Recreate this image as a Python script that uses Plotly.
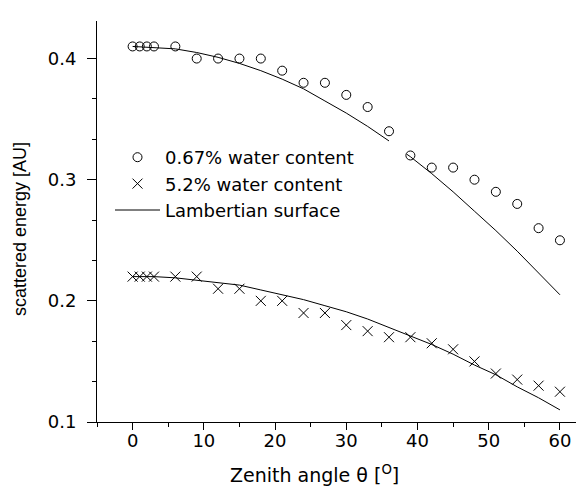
import plotly.graph_objects as go

# Measured data
angle = [0, 1, 2, 3, 6, 9, 12, 15, 18, 21, 24, 27, 30, 33, 36, 39, 42, 45, 48, 51, 54, 57, 60]
energy_067 = [0.41, 0.41, 0.41, 0.41, 0.41, 0.40, 0.40, 0.40, 0.40, 0.39, 0.38, 0.38, 0.37,
              0.36, 0.34, 0.32, 0.31, 0.31, 0.30, 0.29, 0.28, 0.26, 0.25]
energy_52 = [0.22, 0.22, 0.22, 0.22, 0.22, 0.22, 0.21, 0.21, 0.20, 0.20, 0.19, 0.19, 0.18,
             0.175, 0.17, 0.17, 0.165, 0.16, 0.15, 0.14, 0.135, 0.13, 0.125]

# Lambertian surface curves (upper curve has a gap)
lam_angle_hi = [0, 3, 6, 9, 12, 15, 18, 21, 24, 27, 30, 33, 36, None,
                38.5, 39, 42, 45, 48, 51, 54, 57, 60]
lam_hi = [0.410, 0.409, 0.408, 0.405, 0.401, 0.396, 0.390, 0.383, 0.375, 0.365, 0.355,
          0.344, 0.332, None, 0.321, 0.319, 0.305, 0.290, 0.274, 0.258, 0.241, 0.223, 0.205]
lam_angle_lo = [0, 3, 6, 9, 12, 15, 18, 21, 24, 27, 30, 33, 36, 39, 42, 45, 48, 51, 54, 57, 60]
lam_lo = [0.220, 0.220, 0.219, 0.217, 0.215, 0.213, 0.209, 0.205, 0.201, 0.196, 0.191,
          0.185, 0.178, 0.171, 0.164, 0.156, 0.147, 0.139, 0.129, 0.120, 0.110]

x_ticks = [0, 10, 20, 30, 40, 50, 60]
y_ticks = [0.1, 0.2, 0.3, 0.4]

x_title = "Zenith angle θ [<sup>O</sup>]"
y_title = "scattered energy [AU]"

FONT = "DejaVu Sans, sans-serif"
FONT_Y = "Liberation Sans, Arial, sans-serif"
W, H = 584, 488
L, R, T, B = 89, 0, 13, 74

fig = go.Figure()
fig.add_trace(go.Scatter(
    x=angle, y=energy_067, mode="markers", name="0.67% water content",
    marker=dict(symbol="circle-open", size=9, color="black", line=dict(width=1, color="black")),
))
fig.add_trace(go.Scatter(
    x=angle, y=energy_52, mode="markers", name="5.2% water content",
    marker=dict(symbol="x-thin-open", size=10, color="black", line=dict(width=1, color="black")),
))
fig.add_trace(go.Scatter(
    x=lam_angle_hi, y=lam_hi, mode="lines", name="Lambertian surface",
    legendgroup="c", connectgaps=False,
    line=dict(color="black", width=1),
))
fig.add_trace(go.Scatter(
    x=lam_angle_lo, y=lam_lo, mode="lines", name="Lambertian surface",
    legendgroup="c", showlegend=False,
    line=dict(color="black", width=1),
))

pw = W - L - R
ph = H - T - B
fig.add_annotation(
    text=x_title, xref="paper", yref="paper",
    x=(306 - L) / pw, y=-(466 - T - ph) / ph, xanchor="center", yanchor="middle",
    showarrow=False, font=dict(family=FONT, size=19, color="black"),
)
fig.add_annotation(
    text=y_title, xref="paper", yref="paper", textangle=-90,
    x=(12 - L) / pw, y=1 - (221 - T) / ph, xanchor="center", yanchor="middle",
    showarrow=False, font=dict(family=FONT_Y, size=18, color="black"),
)

fig.update_layout(
    width=W, height=H,
    margin=dict(l=L, r=R, t=T, b=B),
    paper_bgcolor="white", plot_bgcolor="white",
    font=dict(family=FONT, size=18, color="black"),
    showlegend=True,
    legend=dict(
        x=(102 - L) / pw, y=1 - (131 - T) / ph, xanchor="left", yanchor="top",
        bgcolor="rgba(0,0,0,0)", font=dict(size=18, family=FONT),
        tracegroupgap=0, traceorder="normal", itemwidth=45,
    ),
    xaxis=dict(
        range=[-5, 64.5], tickvals=x_ticks, ticks="outside", ticklen=7, tickwidth=1,
        tickcolor="black", showline=True, linecolor="black", linewidth=1,
        showgrid=False, zeroline=False, ticklabelstandoff=-5,
        minor=dict(dtick=5, tick0=0, ticks="outside", ticklen=4, tickcolor="black", showgrid=False),
        tickfont=dict(size=18, family=FONT),
    ),
    yaxis=dict(
        range=[0.1, 0.431], tickvals=y_ticks, tickformat=".1f", ticks="outside", ticklen=9,
        tickwidth=1, tickcolor="black", showline=True, linecolor="black", linewidth=1,
        showgrid=False, zeroline=False, ticklabelstandoff=7,
        minor=dict(dtick=0.1 / 3, tick0=0.1, ticks="outside", ticklen=4, tickcolor="black",
                   showgrid=False),
        tickfont=dict(size=18, family=FONT),
    ),
)

fig.write_html("out.html")
